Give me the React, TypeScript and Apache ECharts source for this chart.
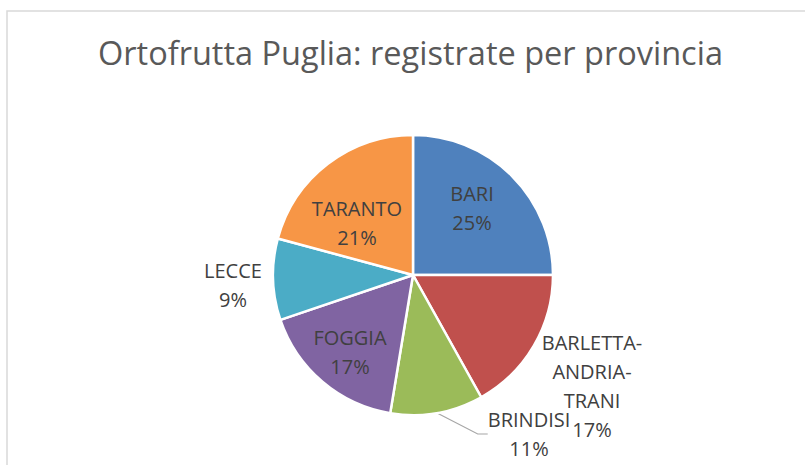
import React, { useEffect, useRef } from "react";
import * as echarts from "echarts";

const categories = ["BARI", "BARLETTA-ANDRIA-TRANI", "BRINDISI", "FOGGIA", "LECCE", "TARANTO"];
const values = [25.0, 16.9, 10.7, 17.2, 9.4, 20.8];
const colors = ["#4F81BD", "#C0504D", "#9BBB59", "#8064A2", "#4BACC6", "#F79646"];
const labelPlacement = ["inside", "outside", "outside", "inside", "outside", "inside"];
const showLeader = [false, false, true, false, false, false];
const labelAnchors: [number, number][] = [
  [472, 208],
  [592, 386],
  [529, 434],
  [350, 352],
  [233, 285],
  [357, 223],
];

export default function App() {
  const ref = useRef<HTMLDivElement>(null);
  useEffect(() => {
    if (!ref.current) return;
    const chart = echarts.init(ref.current, undefined, { renderer: "svg" });
    const font = "'Open Sans', 'Noto Sans', sans-serif";
    chart.setOption({
      animation: false,
      backgroundColor: "#ffffff",
      title: {
        text: "Ortofrutta Puglia: registrate per provincia",
        left: 93,
        top: 31,
        textStyle: { fontFamily: font, fontSize: 32.5, fontWeight: "normal", color: "#595959" },
      },
      graphic: [
        {
          type: "rect",
          shape: { x: 7, y: 11, width: 830, height: 480 },
          style: { fill: "none", stroke: "#D9D9D9", lineWidth: 1.5 },
          silent: true,
        },
      ],
      series: [
        {
          type: "pie",
          center: [413, 275],
          radius: 140,
          startAngle: 90,
          clockwise: true,
          avoidLabelOverlap: false,
          itemStyle: { borderColor: "#ffffff", borderWidth: 2.5 },
          label: {
            fontFamily: font,
            fontSize: 20,
            lineHeight: 29,
            color: "#404040",
            align: "center",
            formatter: (p: any) => p.name.replace(/-/g, "-\n") + "\n" + Math.round(p.percent) + "%",
          },
          labelLine: { lineStyle: { color: "#A6A6A6", width: 1.2 }, length: 10, length2: 10 },
          labelLayout: (p: any) => {
            const a = labelAnchors[p.dataIndex];
            return { x: a[0], y: a[1], align: "center", verticalAlign: "middle" };
          },
          data: categories.map((name, i) => ({
            name,
            value: values[i],
            itemStyle: { color: colors[i] },
            label: { position: labelPlacement[i] },
            labelLine: { show: showLeader[i] },
          })),
        },
      ],
    });
    return () => chart.dispose();
  }, []);
  return (
    <div
      ref={ref}
      style={{ position: "absolute", left: 0, top: 0, width: 805, height: 465 }}
    />
  );
}
